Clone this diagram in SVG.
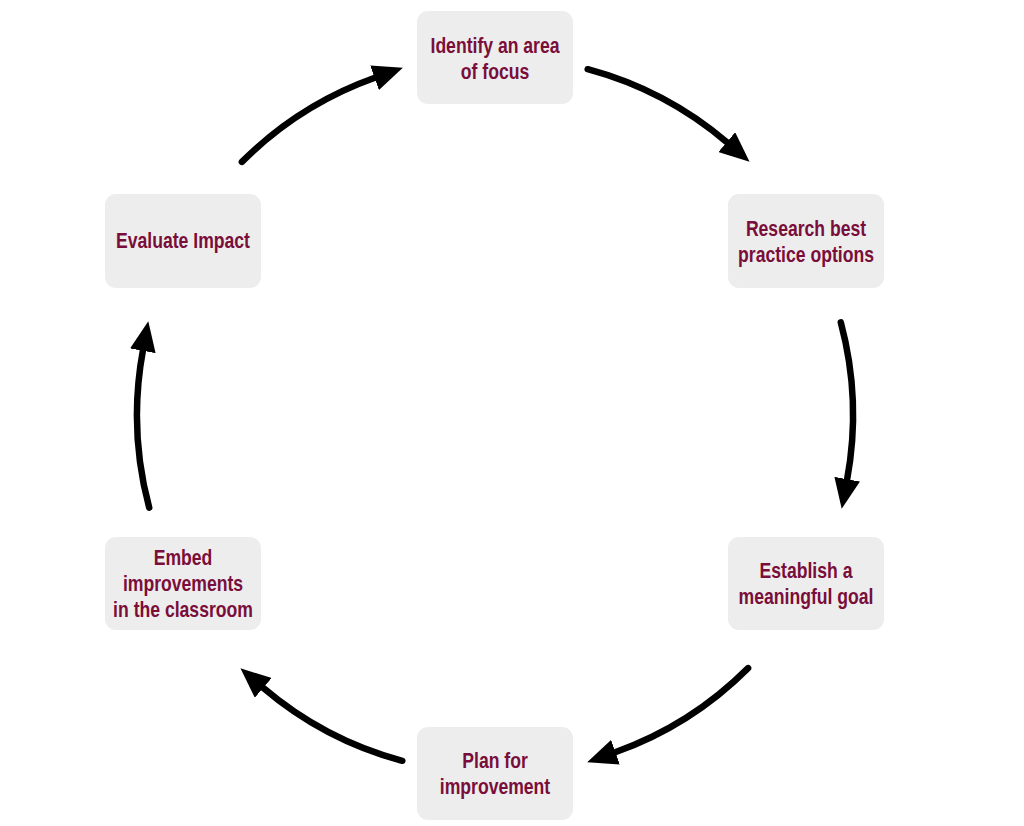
<svg xmlns="http://www.w3.org/2000/svg" width="1024" height="826" viewBox="0 0 1024 826">
<style>
.box{fill:#EDEDED;}
.lbl{font-family:"Liberation Sans",Arial,sans-serif;font-weight:bold;font-size:22px;fill:#7A0E3A;text-anchor:middle;}
.arc{fill:none;stroke:#000;stroke-width:6.5;stroke-linecap:round;}
</style>
<defs>
<marker id="ah" markerUnits="userSpaceOnUse" viewBox="0 0 30 26" markerWidth="30" markerHeight="26" refX="1" refY="13" orient="auto">
<path d="M0,0 L30,13 L0,26 z" fill="#000"/>
</marker>
</defs>
<rect width="1024" height="826" fill="#fff"/>
<g id="connectors">
<path class="arc" marker-end="url(#ah)" d="M587.7,69.2 A358,358 0 0 1 727.5,142.8"/>
<path class="arc" marker-end="url(#ah)" d="M840.8,322.3 A358,358 0 0 1 847.0,480.2"/>
<path class="arc" marker-end="url(#ah)" d="M748.1,668.1 A358,358 0 0 1 614.5,752.5"/>
<path class="arc" marker-end="url(#ah)" d="M402.3,760.8 A358,358 0 0 1 262.5,687.2"/>
<path class="arc" marker-end="url(#ah)" d="M149.2,507.7 A358,358 0 0 1 143.0,349.8"/>
<path class="arc" marker-end="url(#ah)" d="M241.9,161.9 A358,358 0 0 1 375.5,77.5"/>
</g>
<g id="identify">
<rect class="box" x="417" y="11" width="156" height="93" rx="11"/>
<text class="lbl" transform="translate(495,53) scale(0.8,1)">Identify an area</text>
<text class="lbl" transform="translate(495,79) scale(0.8,1)">of focus</text>
</g>
<g id="research">
<rect class="box" x="728" y="194" width="156" height="94" rx="11"/>
<text class="lbl" transform="translate(806,236) scale(0.8,1)">Research best</text>
<text class="lbl" transform="translate(806,262) scale(0.8,1)">practice options</text>
</g>
<g id="establish">
<rect class="box" x="728" y="537" width="156" height="93" rx="11"/>
<text class="lbl" transform="translate(806,578) scale(0.8,1)">Establish a</text>
<text class="lbl" transform="translate(806,604) scale(0.8,1)">meaningful goal</text>
</g>
<g id="plan">
<rect class="box" x="417" y="727" width="156" height="93" rx="11"/>
<text class="lbl" transform="translate(495,768) scale(0.8,1)">Plan for</text>
<text class="lbl" transform="translate(495,794) scale(0.8,1)">improvement</text>
</g>
<g id="embed">
<rect class="box" x="105" y="537" width="156" height="93" rx="11"/>
<text class="lbl" transform="translate(183,565) scale(0.8,1)">Embed</text>
<text class="lbl" transform="translate(183,591) scale(0.8,1)">improvements</text>
<text class="lbl" transform="translate(183,617) scale(0.8,1)">in the classroom</text>
</g>
<g id="evaluate">
<rect class="box" x="105" y="194" width="156" height="94" rx="11"/>
<text class="lbl" transform="translate(183,248) scale(0.8,1)">Evaluate Impact</text>
</g>
</svg>
